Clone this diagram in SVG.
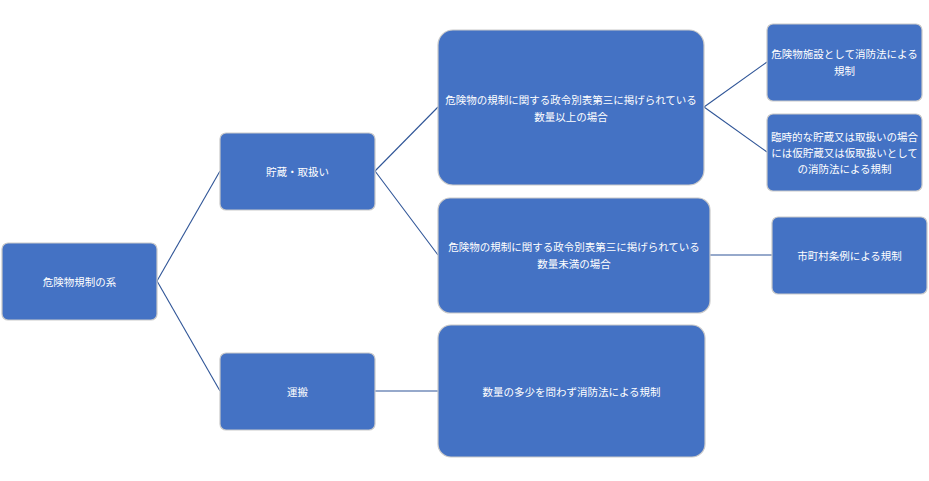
<svg xmlns="http://www.w3.org/2000/svg" width="929" height="481" viewBox="0 0 929 481">
<style>
.n rect{fill:#4472C4;stroke:#C9C9C9;stroke-width:1.2}
.n text{fill:#FFFFFF;font-family:"Noto Sans CJK JP","Noto Sans CJK SC",sans-serif;font-size:10.5px;text-anchor:middle;dominant-baseline:central}
.c line{stroke:#2F5597;stroke-width:1.1}
</style>
<rect width="929" height="481" fill="#FFFFFF"/>
<g id="connectors" class="c">
<line x1="157" y1="281" x2="220" y2="171"/>
<line x1="157" y1="281" x2="220" y2="391"/>
<line x1="375" y1="171" x2="438" y2="107"/>
<line x1="375" y1="171" x2="438" y2="255"/>
<line x1="375" y1="391" x2="438" y2="391"/>
<line x1="704" y1="107" x2="767" y2="62"/>
<line x1="704" y1="107" x2="767" y2="152"/>
<line x1="710" y1="255" x2="772" y2="255"/>
</g>
<g id="root" class="n"><rect x="2" y="243" width="155" height="77" rx="6"/><text x="79.5" y="281">危険物規制の系</text></g>
<g id="storage" class="n"><rect x="220" y="133" width="155" height="77" rx="6"/><text x="297.5" y="171">貯蔵・取扱い</text></g>
<g id="transport" class="n"><rect x="220" y="353" width="155" height="77" rx="6"/><text x="297.5" y="391">運搬</text></g>
<g id="above" class="n"><rect x="438" y="30" width="266" height="155" rx="15"/><text x="571" y="99">危険物の規制に関する政令別表第三に掲げられている</text><text x="571" y="116">数量以上の場合</text></g>
<g id="below" class="n"><rect x="438" y="198" width="272" height="115" rx="12"/><text x="574" y="246">危険物の規制に関する政令別表第三に掲げられている</text><text x="574" y="263">数量未満の場合</text></g>
<g id="anyqty" class="n"><rect x="438" y="325" width="267" height="132" rx="13"/><text x="571.5" y="391">数量の多少を問わず消防法による規制</text></g>
<g id="facility" class="n"><rect x="767" y="24" width="155" height="77" rx="6"/><text x="844.5" y="53">危険物施設として消防法による</text><text x="844.5" y="70">規制</text></g>
<g id="temporary" class="n"><rect x="767" y="114" width="155" height="77" rx="6"/><text x="844.5" y="136">臨時的な貯蔵又は取扱いの場合</text><text x="844.5" y="152">には仮貯蔵又は仮取扱いとして</text><text x="844.5" y="168">の消防法による規制</text></g>
<g id="municipal" class="n"><rect x="772" y="217" width="155" height="77" rx="6"/><text x="849.5" y="255">市町村条例による規制</text></g>
</svg>
